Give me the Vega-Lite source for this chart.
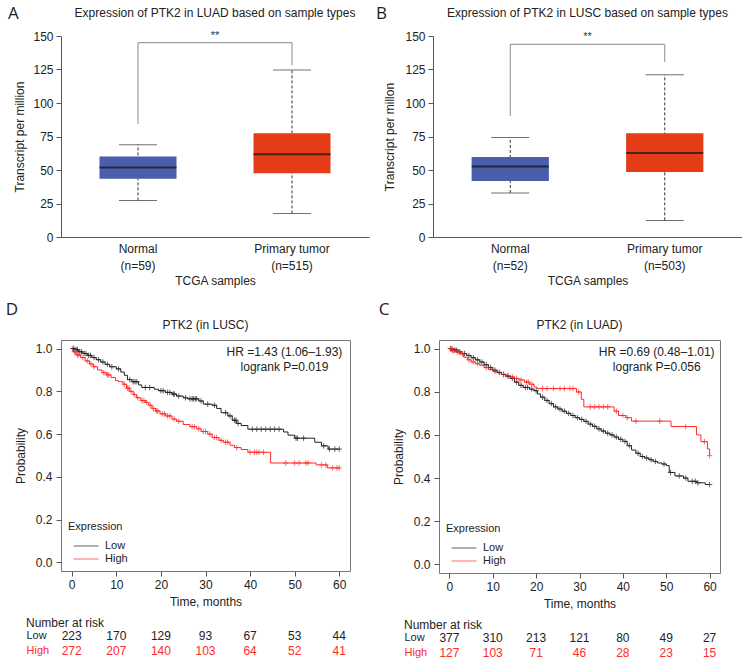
{
"$schema": "https://vega.github.io/schema/vega-lite/v6.json",
"padding": {"left": 5, "top": 4, "right": 0, "bottom": 0},
"config": {
  "font": "Liberation Sans",
  "view": {"stroke": null},
  "axis": {"labelFontSize": 12, "titleFontSize": 12, "titleFontWeight": "normal", "labelColor": "#222", "titleColor": "#222", "domainColor": "#555", "tickColor": "#555", "grid": false, "labelOverlap": false},
  "title": {"fontSize": 12, "fontWeight": "normal", "color": "#222"}
},
"datasets": {
  "boxA": [{"g":"Normal|(n=59)","mn":27.3,"q1":43.4,"md":51.8,"q3":60,"mx":68.9},{"g":"Primary tumor|(n=515)","mn":17.6,"q1":47.6,"md":61.7,"q3":77.4,"mx":124.7}],
  "brA": [{"g":"Normal|(n=59)","v":84.3,"o":1},{"g":"Normal|(n=59)","v":145,"o":2},{"g":"Primary tumor|(n=515)","v":145,"o":3},{"g":"Primary tumor|(n=515)","v":128.2,"o":4}],
  "boxB": [{"g":"Normal|(n=52)","mn":32.9,"q1":41.8,"md":52.7,"q3":59.7,"mx":74.3},{"g":"Primary tumor|(n=503)","mn":12.4,"q1":48.5,"md":62.6,"q3":77.5,"mx":121}],
  "brB": [{"g":"Normal|(n=52)","v":90.3,"o":1},{"g":"Normal|(n=52)","v":143.8,"o":2},{"g":"Primary tumor|(n=503)","v":143.8,"o":3},{"g":"Primary tumor|(n=503)","v":130.7,"o":4}],
  "dLine": [
    {"g":"Low","t":0,"s":1.0},{"g":"Low","t":0.7,"s":0.995},{"g":"Low","t":1.5,"s":0.985},{"g":"Low","t":2.5,"s":0.977},{"g":"Low","t":3.5,"s":0.968},{"g":"Low","t":4.5,"s":0.958},{"g":"Low","t":5.5,"s":0.948},{"g":"Low","t":6.5,"s":0.937},{"g":"Low","t":7.5,"s":0.926},{"g":"Low","t":8.5,"s":0.915},{"g":"Low","t":10,"s":0.905},{"g":"Low","t":11,"s":0.89},{"g":"Low","t":11.8,"s":0.875},{"g":"Low","t":12.5,"s":0.855},{"g":"Low","t":13.5,"s":0.845},{"g":"Low","t":15,"s":0.83},{"g":"Low","t":15.7,"s":0.818},{"g":"Low","t":18.5,"s":0.81},{"g":"Low","t":19.5,"s":0.803},{"g":"Low","t":21,"s":0.795},{"g":"Low","t":22.5,"s":0.787},{"g":"Low","t":23.5,"s":0.778},{"g":"Low","t":25,"s":0.77},{"g":"Low","t":26,"s":0.765},{"g":"Low","t":28.5,"s":0.755},{"g":"Low","t":29.5,"s":0.74},{"g":"Low","t":31.5,"s":0.735},{"g":"Low","t":32.5,"s":0.72},{"g":"Low","t":33.5,"s":0.7},{"g":"Low","t":35,"s":0.685},{"g":"Low","t":36,"s":0.665},{"g":"Low","t":37,"s":0.65},{"g":"Low","t":38,"s":0.64},{"g":"Low","t":39.5,"s":0.623},{"g":"Low","t":47.5,"s":0.61},{"g":"Low","t":48.5,"s":0.595},{"g":"Low","t":50,"s":0.581},{"g":"Low","t":54.5,"s":0.562},{"g":"Low","t":56,"s":0.545},{"g":"Low","t":57.5,"s":0.53},{"g":"Low","t":60,"s":0.53},
    {"g":"High","t":0,"s":1.0},{"g":"High","t":0.3,"s":0.985},{"g":"High","t":1,"s":0.97},{"g":"High","t":2,"s":0.958},{"g":"High","t":3,"s":0.942},{"g":"High","t":4,"s":0.928},{"g":"High","t":4.8,"s":0.915},{"g":"High","t":5.8,"s":0.9},{"g":"High","t":6.8,"s":0.887},{"g":"High","t":7.8,"s":0.877},{"g":"High","t":8.8,"s":0.865},{"g":"High","t":9.8,"s":0.85},{"g":"High","t":10.5,"s":0.845},{"g":"High","t":11.5,"s":0.833},{"g":"High","t":12.3,"s":0.815},{"g":"High","t":13,"s":0.8},{"g":"High","t":13.8,"s":0.785},{"g":"High","t":14.5,"s":0.77},{"g":"High","t":15.5,"s":0.757},{"g":"High","t":16.5,"s":0.748},{"g":"High","t":17.3,"s":0.735},{"g":"High","t":18,"s":0.72},{"g":"High","t":18.8,"s":0.708},{"g":"High","t":19.8,"s":0.695},{"g":"High","t":21,"s":0.685},{"g":"High","t":22.5,"s":0.67},{"g":"High","t":23.5,"s":0.66},{"g":"High","t":25,"s":0.645},{"g":"High","t":26.5,"s":0.635},{"g":"High","t":28,"s":0.625},{"g":"High","t":29,"s":0.612},{"g":"High","t":30.5,"s":0.6},{"g":"High","t":31.5,"s":0.584},{"g":"High","t":33,"s":0.571},{"g":"High","t":34,"s":0.562},{"g":"High","t":35.5,"s":0.548},{"g":"High","t":36.5,"s":0.537},{"g":"High","t":38,"s":0.528},{"g":"High","t":39.5,"s":0.515},{"g":"High","t":44.6,"s":0.465},{"g":"High","t":54.8,"s":0.456},{"g":"High","t":57.3,"s":0.442},{"g":"High","t":60,"s":0.442}
  ],
  "dCens": [
    {"g":"Low","t":0.3,"s":1.0},{"g":"Low","t":0.5,"s":1.0},{"g":"Low","t":1.0,"s":0.995},{"g":"Low","t":1.3,"s":0.995},{"g":"Low","t":1.8,"s":0.985},{"g":"Low","t":2.2,"s":0.985},{"g":"Low","t":2.8,"s":0.977},{"g":"Low","t":3.2,"s":0.977},{"g":"Low","t":3.8,"s":0.968},{"g":"Low","t":4.2,"s":0.968},{"g":"Low","t":5,"s":0.958},{"g":"Low","t":6,"s":0.948},{"g":"Low","t":7,"s":0.937},{"g":"Low","t":8,"s":0.926},{"g":"Low","t":9,"s":0.915},{"g":"Low","t":10.5,"s":0.905},{"g":"Low","t":13,"s":0.855},{"g":"Low","t":13.8,"s":0.845},{"g":"Low","t":14.2,"s":0.845},{"g":"Low","t":14.6,"s":0.845},{"g":"Low","t":16.5,"s":0.818},{"g":"Low","t":17.5,"s":0.818},{"g":"Low","t":20,"s":0.803},{"g":"Low","t":20.5,"s":0.803},{"g":"Low","t":21.5,"s":0.795},{"g":"Low","t":22,"s":0.795},{"g":"Low","t":22.8,"s":0.787},{"g":"Low","t":23,"s":0.787},{"g":"Low","t":24,"s":0.778},{"g":"Low","t":25.5,"s":0.77},{"g":"Low","t":26.5,"s":0.765},{"g":"Low","t":27,"s":0.765},{"g":"Low","t":27.3,"s":0.765},{"g":"Low","t":27.7,"s":0.765},{"g":"Low","t":28,"s":0.765},{"g":"Low","t":29,"s":0.755},{"g":"Low","t":30.5,"s":0.74},{"g":"Low","t":32,"s":0.735},{"g":"Low","t":34.5,"s":0.7},{"g":"Low","t":35.5,"s":0.685},{"g":"Low","t":36.5,"s":0.665},{"g":"Low","t":36.8,"s":0.665},{"g":"Low","t":37.3,"s":0.65},{"g":"Low","t":40.5,"s":0.623},{"g":"Low","t":41.5,"s":0.623},{"g":"Low","t":42.5,"s":0.623},{"g":"Low","t":43.5,"s":0.623},{"g":"Low","t":44.5,"s":0.623},{"g":"Low","t":45.5,"s":0.623},{"g":"Low","t":46.5,"s":0.623},{"g":"Low","t":50.3,"s":0.581},{"g":"Low","t":50.6,"s":0.581},{"g":"Low","t":52,"s":0.581},{"g":"Low","t":56.5,"s":0.545},{"g":"Low","t":57.8,"s":0.53},{"g":"Low","t":59,"s":0.53},{"g":"Low","t":60,"s":0.53},
    {"g":"High","t":0.6,"s":0.985},{"g":"High","t":0.8,"s":0.985},{"g":"High","t":1.3,"s":0.97},{"g":"High","t":1.6,"s":0.97},{"g":"High","t":2.5,"s":0.958},{"g":"High","t":3.5,"s":0.942},{"g":"High","t":4.3,"s":0.928},{"g":"High","t":5,"s":0.915},{"g":"High","t":7.2,"s":0.887},{"g":"High","t":8,"s":0.877},{"g":"High","t":8.3,"s":0.877},{"g":"High","t":11.8,"s":0.833},{"g":"High","t":12.5,"s":0.815},{"g":"High","t":12.8,"s":0.815},{"g":"High","t":13.3,"s":0.8},{"g":"High","t":14,"s":0.785},{"g":"High","t":14.8,"s":0.77},{"g":"High","t":15.8,"s":0.757},{"g":"High","t":16.2,"s":0.757},{"g":"High","t":16.8,"s":0.748},{"g":"High","t":17.6,"s":0.735},{"g":"High","t":18.3,"s":0.72},{"g":"High","t":19,"s":0.708},{"g":"High","t":19.3,"s":0.708},{"g":"High","t":20.3,"s":0.695},{"g":"High","t":20.8,"s":0.695},{"g":"High","t":21.5,"s":0.685},{"g":"High","t":22,"s":0.685},{"g":"High","t":23,"s":0.67},{"g":"High","t":24,"s":0.66},{"g":"High","t":27,"s":0.635},{"g":"High","t":27.5,"s":0.635},{"g":"High","t":28.5,"s":0.625},{"g":"High","t":29.5,"s":0.612},{"g":"High","t":30,"s":0.612},{"g":"High","t":31,"s":0.6},{"g":"High","t":32,"s":0.584},{"g":"High","t":32.5,"s":0.584},{"g":"High","t":33.5,"s":0.571},{"g":"High","t":34.5,"s":0.562},{"g":"High","t":35,"s":0.562},{"g":"High","t":37,"s":0.537},{"g":"High","t":40,"s":0.515},{"g":"High","t":41,"s":0.515},{"g":"High","t":41.5,"s":0.515},{"g":"High","t":42,"s":0.515},{"g":"High","t":43,"s":0.515},{"g":"High","t":48,"s":0.465},{"g":"High","t":50,"s":0.465},{"g":"High","t":51,"s":0.465},{"g":"High","t":52.5,"s":0.465},{"g":"High","t":53,"s":0.465},{"g":"High","t":56,"s":0.456},{"g":"High","t":57,"s":0.456},{"g":"High","t":58.5,"s":0.442},{"g":"High","t":59.5,"s":0.442},{"g":"High","t":60,"s":0.442}
  ],
  "cLine": [
    {"g":"Low","t":0,"s":1.0},{"g":"Low","t":1,"s":0.993},{"g":"Low","t":2,"s":0.985},{"g":"Low","t":3,"s":0.977},{"g":"Low","t":4,"s":0.968},{"g":"Low","t":5,"s":0.958},{"g":"Low","t":6,"s":0.948},{"g":"Low","t":7,"s":0.938},{"g":"Low","t":8,"s":0.925},{"g":"Low","t":9,"s":0.912},{"g":"Low","t":10,"s":0.9},{"g":"Low","t":11,"s":0.89},{"g":"Low","t":12,"s":0.88},{"g":"Low","t":13,"s":0.872},{"g":"Low","t":14,"s":0.862},{"g":"Low","t":15,"s":0.845},{"g":"Low","t":16,"s":0.83},{"g":"Low","t":17,"s":0.82},{"g":"Low","t":18.5,"s":0.812},{"g":"Low","t":19.5,"s":0.805},{"g":"Low","t":20.3,"s":0.79},{"g":"Low","t":21,"s":0.775},{"g":"Low","t":22,"s":0.76},{"g":"Low","t":23,"s":0.745},{"g":"Low","t":24,"s":0.73},{"g":"Low","t":25,"s":0.72},{"g":"Low","t":26,"s":0.71},{"g":"Low","t":27,"s":0.7},{"g":"Low","t":28,"s":0.69},{"g":"Low","t":29,"s":0.68},{"g":"Low","t":30,"s":0.672},{"g":"Low","t":31,"s":0.663},{"g":"Low","t":32,"s":0.65},{"g":"Low","t":33,"s":0.64},{"g":"Low","t":34,"s":0.628},{"g":"Low","t":35,"s":0.618},{"g":"Low","t":36,"s":0.608},{"g":"Low","t":37,"s":0.6},{"g":"Low","t":38,"s":0.59},{"g":"Low","t":39,"s":0.58},{"g":"Low","t":40,"s":0.57},{"g":"Low","t":41,"s":0.55},{"g":"Low","t":42,"s":0.53},{"g":"Low","t":43,"s":0.515},{"g":"Low","t":44,"s":0.5},{"g":"Low","t":45,"s":0.493},{"g":"Low","t":46,"s":0.485},{"g":"Low","t":47,"s":0.477},{"g":"Low","t":48,"s":0.47},{"g":"Low","t":49,"s":0.465},{"g":"Low","t":50,"s":0.458},{"g":"Low","t":50.7,"s":0.426},{"g":"Low","t":52,"s":0.41},{"g":"Low","t":54,"s":0.4},{"g":"Low","t":55,"s":0.385},{"g":"Low","t":57,"s":0.378},{"g":"Low","t":59,"s":0.37},{"g":"Low","t":60,"s":0.37},
    {"g":"High","t":0,"s":1.0},{"g":"High","t":0.5,"s":0.99},{"g":"High","t":1.5,"s":0.985},{"g":"High","t":2.5,"s":0.975},{"g":"High","t":3.3,"s":0.96},{"g":"High","t":4.2,"s":0.948},{"g":"High","t":5,"s":0.938},{"g":"High","t":6,"s":0.93},{"g":"High","t":7,"s":0.923},{"g":"High","t":8,"s":0.912},{"g":"High","t":9,"s":0.903},{"g":"High","t":10,"s":0.895},{"g":"High","t":11,"s":0.888},{"g":"High","t":12,"s":0.881},{"g":"High","t":13,"s":0.875},{"g":"High","t":14,"s":0.869},{"g":"High","t":15,"s":0.862},{"g":"High","t":16,"s":0.855},{"g":"High","t":17.3,"s":0.845},{"g":"High","t":18.5,"s":0.835},{"g":"High","t":19.5,"s":0.822},{"g":"High","t":20.2,"s":0.815},{"g":"High","t":29.3,"s":0.799},{"g":"High","t":30.4,"s":0.765},{"g":"High","t":31,"s":0.73},{"g":"High","t":38,"s":0.71},{"g":"High","t":39,"s":0.69},{"g":"High","t":40.7,"s":0.68},{"g":"High","t":42,"s":0.664},{"g":"High","t":51.1,"s":0.639},{"g":"High","t":57,"s":0.6},{"g":"High","t":58,"s":0.569},{"g":"High","t":59.5,"s":0.535},{"g":"High","t":60,"s":0.504}
  ],
  "cCens": [
    {"g":"Low","t":0.3,"s":1.0},{"g":"Low","t":0.6,"s":1.0},{"g":"Low","t":1.3,"s":0.993},{"g":"Low","t":1.7,"s":0.993},{"g":"Low","t":2.4,"s":0.985},{"g":"Low","t":3.5,"s":0.977},{"g":"Low","t":4.5,"s":0.968},{"g":"Low","t":5.5,"s":0.958},{"g":"Low","t":6.5,"s":0.948},{"g":"Low","t":7.5,"s":0.938},{"g":"Low","t":8.5,"s":0.925},{"g":"Low","t":9.5,"s":0.912},{"g":"Low","t":10.5,"s":0.9},{"g":"Low","t":11.5,"s":0.89},{"g":"Low","t":12.5,"s":0.88},{"g":"Low","t":13.5,"s":0.872},{"g":"Low","t":14.5,"s":0.862},{"g":"Low","t":15.5,"s":0.845},{"g":"Low","t":16.5,"s":0.83},{"g":"Low","t":17.5,"s":0.82},{"g":"Low","t":18,"s":0.82},{"g":"Low","t":19,"s":0.812},{"g":"Low","t":20,"s":0.805},{"g":"Low","t":21.5,"s":0.775},{"g":"Low","t":22.5,"s":0.76},{"g":"Low","t":23.5,"s":0.745},{"g":"Low","t":24.5,"s":0.73},{"g":"Low","t":25.5,"s":0.72},{"g":"Low","t":26.5,"s":0.71},{"g":"Low","t":27.5,"s":0.7},{"g":"Low","t":28.5,"s":0.69},{"g":"Low","t":29.5,"s":0.68},{"g":"Low","t":30.5,"s":0.672},{"g":"Low","t":31.5,"s":0.663},{"g":"Low","t":32.5,"s":0.65},{"g":"Low","t":33.5,"s":0.64},{"g":"Low","t":34.5,"s":0.628},{"g":"Low","t":35.5,"s":0.618},{"g":"Low","t":36.5,"s":0.608},{"g":"Low","t":37.5,"s":0.6},{"g":"Low","t":38.5,"s":0.59},{"g":"Low","t":39.5,"s":0.58},{"g":"Low","t":40.5,"s":0.57},{"g":"Low","t":41.5,"s":0.55},{"g":"Low","t":43.5,"s":0.515},{"g":"Low","t":44.5,"s":0.5},{"g":"Low","t":45.5,"s":0.493},{"g":"Low","t":46.5,"s":0.485},{"g":"Low","t":47.5,"s":0.477},{"g":"Low","t":49.5,"s":0.465},{"g":"Low","t":51,"s":0.426},{"g":"Low","t":53,"s":0.41},{"g":"Low","t":54.5,"s":0.4},{"g":"Low","t":56,"s":0.385},{"g":"Low","t":56.7,"s":0.385},{"g":"Low","t":57.3,"s":0.378},{"g":"Low","t":60,"s":0.37},
    {"g":"High","t":0.2,"s":1.0},{"g":"High","t":0.7,"s":0.99},{"g":"High","t":1.0,"s":0.99},{"g":"High","t":1.8,"s":0.985},{"g":"High","t":2.2,"s":0.985},{"g":"High","t":3.0,"s":0.975},{"g":"High","t":4.5,"s":0.948},{"g":"High","t":5.5,"s":0.938},{"g":"High","t":6.5,"s":0.93},{"g":"High","t":8.5,"s":0.912},{"g":"High","t":10.5,"s":0.895},{"g":"High","t":12.5,"s":0.881},{"g":"High","t":13.5,"s":0.875},{"g":"High","t":14.5,"s":0.869},{"g":"High","t":15.5,"s":0.862},{"g":"High","t":16.5,"s":0.855},{"g":"High","t":17.8,"s":0.845},{"g":"High","t":18.2,"s":0.845},{"g":"High","t":19,"s":0.835},{"g":"High","t":21.5,"s":0.815},{"g":"High","t":22.5,"s":0.815},{"g":"High","t":24,"s":0.815},{"g":"High","t":25.5,"s":0.815},{"g":"High","t":26.5,"s":0.815},{"g":"High","t":27.8,"s":0.815},{"g":"High","t":28.5,"s":0.815},{"g":"High","t":29.8,"s":0.799},{"g":"High","t":32.5,"s":0.73},{"g":"High","t":33.5,"s":0.73},{"g":"High","t":34.5,"s":0.73},{"g":"High","t":35.5,"s":0.73},{"g":"High","t":36.5,"s":0.73},{"g":"High","t":38.5,"s":0.71},{"g":"High","t":40,"s":0.69},{"g":"High","t":41,"s":0.68},{"g":"High","t":43,"s":0.664},{"g":"High","t":48.5,"s":0.664},{"g":"High","t":54.5,"s":0.639},{"g":"High","t":58.8,"s":0.569},{"g":"High","t":60,"s":0.504}
  ],
  "riskD": [
    {"g":"Low","t":0,"n":223},{"g":"Low","t":10,"n":170},{"g":"Low","t":20,"n":129},{"g":"Low","t":30,"n":93},{"g":"Low","t":40,"n":67},{"g":"Low","t":50,"n":53},{"g":"Low","t":60,"n":44},
    {"g":"High","t":0,"n":272},{"g":"High","t":10,"n":207},{"g":"High","t":20,"n":140},{"g":"High","t":30,"n":103},{"g":"High","t":40,"n":64},{"g":"High","t":50,"n":52},{"g":"High","t":60,"n":41}
  ],
  "riskC": [
    {"g":"Low","t":0,"n":377},{"g":"Low","t":10,"n":310},{"g":"Low","t":20,"n":213},{"g":"Low","t":30,"n":121},{"g":"Low","t":40,"n":80},{"g":"Low","t":50,"n":49},{"g":"Low","t":60,"n":27},
    {"g":"High","t":0,"n":127},{"g":"High","t":10,"n":103},{"g":"High","t":20,"n":71},{"g":"High","t":30,"n":46},{"g":"High","t":40,"n":28},{"g":"High","t":50,"n":23},{"g":"High","t":60,"n":15}
  ]
},
"spacing": 14,
"resolve": {"scale": {"color": "independent"}, "legend": {"color": "independent"}},
"vconcat": [
 {
  "hconcat": [
   {
    "title": {"text": "A", "anchor": "start", "frame": "bounds", "font": "Open Sans", "fontSize": 17, "offset": 0, "dx": -6, "dy": 16},
    "vconcat": [{
      "width": 308, "height": 201,
      "title": {"text": "Expression of PTK2 in LUAD based on sample types", "offset": 10},
      "encoding": {"x": {"field": "g", "type": "nominal", "scale": {"paddingInner": 0, "paddingOuter": 0}, "axis": {"title": "TCGA samples", "labelAngle": 0, "labelExpr": "split(datum.label, '|')", "labelLineHeight": 17, "labelPadding": 6, "ticks": false, "titlePadding": 4}}},
      "layer": [
        {"data": {"name": "brA"}, "mark": {"type": "line", "color": "#8a8a8a", "strokeWidth": 1}, "encoding": {"y": {"field": "v", "type": "quantitative", "scale": {"domain": [0, 150], "nice": false}, "axis": {"values": [0,25,50,75,100,125,150], "title": "Transcript per million", "tickSize": 5, "labelPadding": 3, "titlePadding": 6, "labelOverlap": false}}, "order": {"field": "o", "type": "quantitative"}}},
        {"data": {"values": [{"g": "Normal|(n=59)", "s": "**"}]}, "mark": {"type": "text", "fontSize": 11, "baseline": "alphabetic", "color": "#333"}, "encoding": {"x": {"field": "g", "type": "nominal", "bandPosition": 1}, "y": {"datum": 148, "type": "quantitative", "scale": {"domain": [0, 150], "nice": false}, "axis": {"values": [0,25,50,75,100,125,150], "title": "Transcript per million", "tickSize": 5, "labelPadding": 3, "titlePadding": 6, "labelOverlap": false}}, "text": {"field": "s"}}},
        {"data": {"name": "boxA"}, "mark": {"type": "rule", "strokeDash": [3, 2], "color": "#333", "strokeWidth": 1}, "encoding": {"y": {"field": "mn", "type": "quantitative", "scale": {"domain": [0, 150], "nice": false}, "axis": {"values": [0,25,50,75,100,125,150], "title": "Transcript per million", "tickSize": 5, "labelPadding": 3, "titlePadding": 6, "labelOverlap": false}}, "y2": {"field": "mx"}}},
        {"data": {"name": "boxA"}, "mark": {"type": "tick", "size": 38, "thickness": 1, "color": "#333"}, "encoding": {"y": {"field": "mn", "type": "quantitative", "scale": {"domain": [0, 150], "nice": false}, "axis": {"values": [0,25,50,75,100,125,150], "title": "Transcript per million", "tickSize": 5, "labelPadding": 3, "titlePadding": 6, "labelOverlap": false}}}},
        {"data": {"name": "boxA"}, "mark": {"type": "tick", "size": 38, "thickness": 1, "color": "#333"}, "encoding": {"y": {"field": "mx", "type": "quantitative", "scale": {"domain": [0, 150], "nice": false}, "axis": {"values": [0,25,50,75,100,125,150], "title": "Transcript per million", "tickSize": 5, "labelPadding": 3, "titlePadding": 6, "labelOverlap": false}}}},
        {"data": {"name": "boxA"}, "mark": {"type": "bar", "width": {"band": 0.5}}, "encoding": {"y": {"field": "q1", "type": "quantitative", "scale": {"domain": [0, 150], "nice": false}, "axis": {"values": [0,25,50,75,100,125,150], "title": "Transcript per million", "tickSize": 5, "labelPadding": 3, "titlePadding": 6, "labelOverlap": false}}, "y2": {"field": "q3"}, "color": {"field": "g", "type": "nominal", "scale": {"range": ["#4a5fab", "#e33c17"]}, "legend": null}}},
        {"data": {"name": "boxA"}, "mark": {"type": "tick", "size": 77, "thickness": 2, "color": "#111"}, "encoding": {"y": {"field": "md", "type": "quantitative", "scale": {"domain": [0, 150], "nice": false}, "axis": {"values": [0,25,50,75,100,125,150], "title": "Transcript per million", "tickSize": 5, "labelPadding": 3, "titlePadding": 6, "labelOverlap": false}}}}
      ]
    }]
   },
   {
    "title": {"text": "B", "anchor": "start", "frame": "bounds", "font": "Open Sans", "fontSize": 17, "offset": 0, "dx": -8, "dy": 16},
    "vconcat": [{
      "width": 309, "height": 201,
      "title": {"text": "Expression of PTK2 in LUSC based on sample types", "offset": 10},
      "encoding": {"x": {"field": "g", "type": "nominal", "scale": {"paddingInner": 0, "paddingOuter": 0}, "axis": {"title": "TCGA samples", "labelAngle": 0, "labelExpr": "split(datum.label, '|')", "labelLineHeight": 17, "labelPadding": 6, "ticks": false, "titlePadding": 4}}},
      "layer": [
        {"data": {"name": "brB"}, "mark": {"type": "line", "color": "#8a8a8a", "strokeWidth": 1}, "encoding": {"y": {"field": "v", "type": "quantitative", "scale": {"domain": [0, 150], "nice": false}, "axis": {"values": [0,25,50,75,100,125,150], "title": "Transcript per millon", "tickSize": 5, "labelPadding": 3, "titlePadding": 8, "labelOverlap": false}}, "order": {"field": "o", "type": "quantitative"}}},
        {"data": {"values": [{"g": "Normal|(n=52)", "s": "**"}]}, "mark": {"type": "text", "fontSize": 11, "baseline": "alphabetic", "color": "#333"}, "encoding": {"x": {"field": "g", "type": "nominal", "bandPosition": 1}, "y": {"datum": 147, "type": "quantitative", "scale": {"domain": [0, 150], "nice": false}, "axis": {"values": [0,25,50,75,100,125,150], "title": "Transcript per millon", "tickSize": 5, "labelPadding": 3, "titlePadding": 8, "labelOverlap": false}}, "text": {"field": "s"}}},
        {"data": {"name": "boxB"}, "mark": {"type": "rule", "strokeDash": [3, 2], "color": "#333", "strokeWidth": 1}, "encoding": {"y": {"field": "mn", "type": "quantitative", "scale": {"domain": [0, 150], "nice": false}, "axis": {"values": [0,25,50,75,100,125,150], "title": "Transcript per millon", "tickSize": 5, "labelPadding": 3, "titlePadding": 8, "labelOverlap": false}}, "y2": {"field": "mx"}}},
        {"data": {"name": "boxB"}, "mark": {"type": "tick", "size": 38, "thickness": 1, "color": "#333"}, "encoding": {"y": {"field": "mn", "type": "quantitative", "scale": {"domain": [0, 150], "nice": false}, "axis": {"values": [0,25,50,75,100,125,150], "title": "Transcript per millon", "tickSize": 5, "labelPadding": 3, "titlePadding": 8, "labelOverlap": false}}}},
        {"data": {"name": "boxB"}, "mark": {"type": "tick", "size": 38, "thickness": 1, "color": "#333"}, "encoding": {"y": {"field": "mx", "type": "quantitative", "scale": {"domain": [0, 150], "nice": false}, "axis": {"values": [0,25,50,75,100,125,150], "title": "Transcript per millon", "tickSize": 5, "labelPadding": 3, "titlePadding": 8, "labelOverlap": false}}}},
        {"data": {"name": "boxB"}, "mark": {"type": "bar", "width": {"band": 0.5}}, "encoding": {"y": {"field": "q1", "type": "quantitative", "scale": {"domain": [0, 150], "nice": false}, "axis": {"values": [0,25,50,75,100,125,150], "title": "Transcript per millon", "tickSize": 5, "labelPadding": 3, "titlePadding": 8, "labelOverlap": false}}, "y2": {"field": "q3"}, "color": {"field": "g", "type": "nominal", "scale": {"range": ["#4a5fab", "#e33c17"]}, "legend": null}}},
        {"data": {"name": "boxB"}, "mark": {"type": "tick", "size": 77, "thickness": 2, "color": "#111"}, "encoding": {"y": {"field": "md", "type": "quantitative", "scale": {"domain": [0, 150], "nice": false}, "axis": {"values": [0,25,50,75,100,125,150], "title": "Transcript per millon", "tickSize": 5, "labelPadding": 3, "titlePadding": 8, "labelOverlap": false}}}}
      ]
    }]
   }
  ],
  "spacing": 6,
  "resolve": {"scale": {"color": "independent"}, "legend": {"color": "independent"}}
 },
 {
  "hconcat": [
   {
    "title": {"text": "D", "anchor": "start", "frame": "bounds", "font": "Open Sans", "fontSize": 17, "offset": 0, "dx": -8},
    "spacing": 9,
    "resolve": {"scale": {"color": "independent", "x": "independent"}, "legend": {"color": "independent"}},
    "vconcat": [
     {
      "width": 289, "height": 231,
      "title": {"text": "PTK2 (in LUSC)", "offset": 8},
      "view": {"stroke": "#777", "strokeWidth": 1},
      "layer": [
        {"data": {"name": "dLine"}, "mark": {"type": "line", "interpolate": "step-after", "strokeWidth": 1},
         "encoding": {
          "x": {"field": "t", "type": "quantitative", "scale": {"domain": [-2.4, 62.4], "nice": false, "zero": false}, "axis": {"values": [0,10,20,30,40,50,60], "domain": false, "tickSize": 5, "labelPadding": 3, "title": "Time, months", "titlePadding": 6}},
          "y": {"field": "s", "type": "quantitative", "scale": {"domain": [-0.04, 1.04], "nice": false, "zero": false}, "axis": {"values": [0,0.2,0.4,0.6,0.8,1], "format": ".1f", "domain": false, "tickSize": 5, "labelPadding": 4, "title": "Probability", "titlePadding": 8}},
          "color": {"field": "g", "type": "nominal", "scale": {"domain": ["Low", "High"], "range": ["#222222", "#ff2a2a"]}, "legend": {"title": "Expression", "orient": "bottom-left", "symbolType": "M-0.33,0H3", "symbolSize": 225, "symbolStrokeWidth": 1, "labelFontSize": 11, "titleFontSize": 11, "titleFontWeight": "normal", "offset": 7, "rowPadding": 0, "titlePadding": 6, "labelOffset": 21, "labelColor": "#222", "titleColor": "#222"}}}},
        {"data": {"name": "dCens"}, "mark": {"type": "point", "shape": "M-1,0H1M0,-1V1", "size": 30, "filled": false, "strokeWidth": 1},
         "encoding": {
          "x": {"field": "t", "type": "quantitative", "scale": {"domain": [-2.4, 62.4], "nice": false, "zero": false}, "axis": {"values": [0,10,20,30,40,50,60], "domain": false, "tickSize": 5, "labelPadding": 3, "title": "Time, months", "titlePadding": 6}},
          "y": {"field": "s", "type": "quantitative", "scale": {"domain": [-0.04, 1.04], "nice": false, "zero": false}, "axis": {"values": [0,0.2,0.4,0.6,0.8,1], "format": ".1f", "domain": false, "tickSize": 5, "labelPadding": 4, "title": "Probability", "titlePadding": 8}},
          "color": {"field": "g", "type": "nominal"}}},
        {"data": {"values": [{"k": "HR =1.43 (1.06\u20131.93)"}]}, "mark": {"type": "text", "align": "center", "baseline": "middle", "fontSize": 12, "color": "#222"},
         "encoding": {"x": {"datum": 47.7, "type": "quantitative"}, "y": {"datum": 0.986, "type": "quantitative"}, "text": {"field": "k", "type": "nominal"}}},
        {"data": {"values": [{"k": "logrank P=0.019"}]}, "mark": {"type": "text", "align": "center", "baseline": "middle", "fontSize": 12, "color": "#222"},
         "encoding": {"x": {"datum": 47.7, "type": "quantitative"}, "y": {"datum": 0.916, "type": "quantitative"}, "text": {"field": "k", "type": "nominal"}}}
      ]
     },
     {
      "width": 289, "height": {"step": 15},
      "title": {"text": "Number at risk", "anchor": "start", "frame": "bounds", "offset": -2},
      "data": {"name": "riskD"},
      "mark": {"type": "text", "fontSize": 12},
      "encoding": {
        "x": {"field": "t", "type": "quantitative", "scale": {"domain": [-2.4, 62.4], "nice": false, "zero": false}, "axis": null},
        "y": {"field": "g", "type": "nominal", "sort": ["Low", "High"], "axis": {"title": null, "ticks": false, "domain": false, "labelAlign": "left", "labelPadding": 35, "labelFontSize": 11, "labelColor": {"condition": {"test": "datum.value === 'High'", "value": "#ff2a2a"}, "value": "#222"}}},
        "text": {"field": "n", "type": "quantitative"},
        "color": {"field": "g", "type": "nominal", "scale": {"domain": ["Low", "High"], "range": ["#222222", "#ff2a2a"]}, "legend": null}
      }
     }
    ]
   },
   {
    "title": {"text": "C", "anchor": "start", "frame": "bounds", "font": "Open Sans", "fontSize": 17, "offset": 0, "dx": -13},
    "spacing": 9,
    "resolve": {"scale": {"color": "independent", "x": "independent"}, "legend": {"color": "independent"}},
    "vconcat": [
     {
      "width": 281, "height": 233,
      "title": {"text": "PTK2 (in LUAD)", "offset": 8},
      "view": {"stroke": "#777", "strokeWidth": 1},
      "layer": [
        {"data": {"name": "cLine"}, "mark": {"type": "line", "interpolate": "step-after", "strokeWidth": 1},
         "encoding": {
          "x": {"field": "t", "type": "quantitative", "scale": {"domain": [-2.4, 62.4], "nice": false, "zero": false}, "axis": {"values": [0,10,20,30,40,50,60], "domain": false, "tickSize": 5, "labelPadding": 3, "title": "Time, months", "titlePadding": 6}},
          "y": {"field": "s", "type": "quantitative", "scale": {"domain": [-0.04, 1.04], "nice": false, "zero": false}, "axis": {"values": [0,0.2,0.4,0.6,0.8,1], "format": ".1f", "domain": false, "tickSize": 5, "labelPadding": 4, "title": "Probability", "titlePadding": 8}},
          "color": {"field": "g", "type": "nominal", "scale": {"domain": ["Low", "High"], "range": ["#222222", "#ff2a2a"]}, "legend": {"title": "Expression", "orient": "bottom-left", "symbolType": "M-0.33,0H3", "symbolSize": 225, "symbolStrokeWidth": 1, "labelFontSize": 11, "titleFontSize": 11, "titleFontWeight": "normal", "offset": 7, "rowPadding": 0, "titlePadding": 6, "labelOffset": 21, "labelColor": "#222", "titleColor": "#222"}}}},
        {"data": {"name": "cCens"}, "mark": {"type": "point", "shape": "M-1,0H1M0,-1V1", "size": 30, "filled": false, "strokeWidth": 1},
         "encoding": {
          "x": {"field": "t", "type": "quantitative", "scale": {"domain": [-2.4, 62.4], "nice": false, "zero": false}, "axis": {"values": [0,10,20,30,40,50,60], "domain": false, "tickSize": 5, "labelPadding": 3, "title": "Time, months", "titlePadding": 6}},
          "y": {"field": "s", "type": "quantitative", "scale": {"domain": [-0.04, 1.04], "nice": false, "zero": false}, "axis": {"values": [0,0.2,0.4,0.6,0.8,1], "format": ".1f", "domain": false, "tickSize": 5, "labelPadding": 4, "title": "Probability", "titlePadding": 8}},
          "color": {"field": "g", "type": "nominal"}}},
        {"data": {"values": [{"k": "HR =0.69 (0.48\u20131.01)"}]}, "mark": {"type": "text", "align": "center", "baseline": "middle", "fontSize": 12, "color": "#222"},
         "encoding": {"x": {"datum": 47.8, "type": "quantitative"}, "y": {"datum": 0.986, "type": "quantitative"}, "text": {"field": "k", "type": "nominal"}}},
        {"data": {"values": [{"k": "logrank P=0.056"}]}, "mark": {"type": "text", "align": "center", "baseline": "middle", "fontSize": 12, "color": "#222"},
         "encoding": {"x": {"datum": 47.8, "type": "quantitative"}, "y": {"datum": 0.916, "type": "quantitative"}, "text": {"field": "k", "type": "nominal"}}}
      ]
     },
     {
      "width": 281, "height": {"step": 15},
      "title": {"text": "Number at risk", "anchor": "start", "frame": "bounds", "offset": -2},
      "data": {"name": "riskC"},
      "mark": {"type": "text", "fontSize": 12},
      "encoding": {
        "x": {"field": "t", "type": "quantitative", "scale": {"domain": [-2.4, 62.4], "nice": false, "zero": false}, "axis": null},
        "y": {"field": "g", "type": "nominal", "sort": ["Low", "High"], "axis": {"title": null, "ticks": false, "domain": false, "labelAlign": "left", "labelPadding": 35, "labelFontSize": 11, "labelColor": {"condition": {"test": "datum.value === 'High'", "value": "#ff2a2a"}, "value": "#222"}}},
        "text": {"field": "n", "type": "quantitative"},
        "color": {"field": "g", "type": "nominal", "scale": {"domain": ["Low", "High"], "range": ["#222222", "#ff2a2a"]}, "legend": null}
      }
     }
    ]
   }
  ],
  "spacing": 27,
  "resolve": {"scale": {"color": "independent"}, "legend": {"color": "independent"}}
 }
]
}
